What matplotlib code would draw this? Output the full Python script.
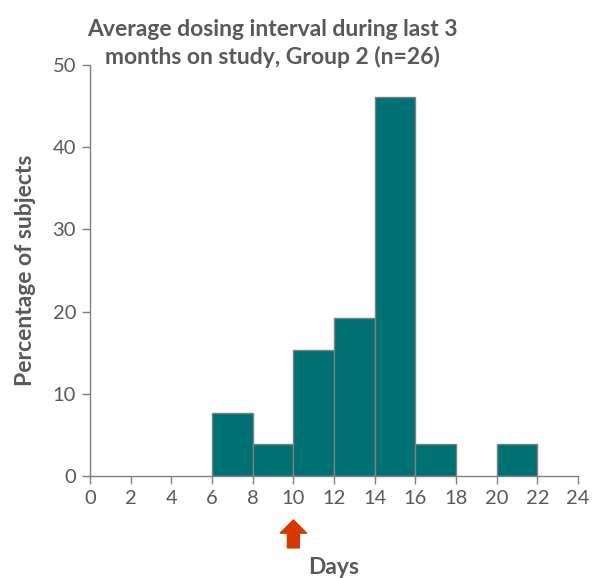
import matplotlib.pyplot as plt
import numpy as np

# histogram of average dosing interval (days), percentage of subjects
bin_edges = [6, 8, 10, 12, 14, 16, 18, 20, 22]
percent = [7.69, 3.85, 15.38, 19.23, 46.15, 3.85, 0.0, 3.85]
xticks = list(range(0, 25, 2))
yticks = [0, 10, 20, 30, 40, 50]
arrow_day = 10

grey = '#595959'
plt.rcParams['font.family'] = ['Lato', 'DejaVu Sans']

fig = plt.figure(figsize=(5.96, 5.78), dpi=100)
ax = fig.add_axes([0.151, 0.1765, 0.819, 0.711])

lefts = np.array(bin_edges[:-1])
widths = np.diff(bin_edges)
heights = np.array(percent)
nz = heights > 0
ax.bar(lefts[nz], heights[nz], width=widths[nz], align='edge',
       color='#007173', edgecolor='#808080', linewidth=1.0, zorder=2)

ax.set_xlim(0, 24)
ax.set_ylim(0, 50)
ax.set_xticks(xticks)
ax.set_yticks(yticks)
ax.tick_params(axis='both', direction='out', length=6, width=1,
               color='#808080', labelcolor=grey, labelsize=14.5, pad=4)
for s in ['top', 'right']:
    ax.spines[s].set_visible(False)
for s in ['left', 'bottom']:
    ax.spines[s].set_color('#808080')
    ax.spines[s].set_linewidth(1)

ax.set_xlabel('Days', fontsize=16.5, fontweight='bold', color=grey, labelpad=36)
ax.set_ylabel('Percentage of subjects', fontsize=16.5, fontweight='bold',
              color=grey, labelpad=12)

fig.text(0.457, 0.925, 'Average dosing interval during last 3\nmonths on study, Group 2 (n=26)',
         ha='center', va='center', fontsize=16.5, fontweight='bold', color=grey,
         linespacing=1.3)

# marker arrow under the x axis
ax.annotate('', xy=(arrow_day, -0.107), xytext=(arrow_day, -0.175),
            xycoords=('data', 'axes fraction'), textcoords=('data', 'axes fraction'),
            arrowprops=dict(arrowstyle='simple,head_width=1.9,head_length=0.95,tail_width=0.86',
                            color='#D43A00', mutation_scale=10, shrinkA=0, shrinkB=0),
            annotation_clip=False)

fig.savefig('out.png', dpi=100)
